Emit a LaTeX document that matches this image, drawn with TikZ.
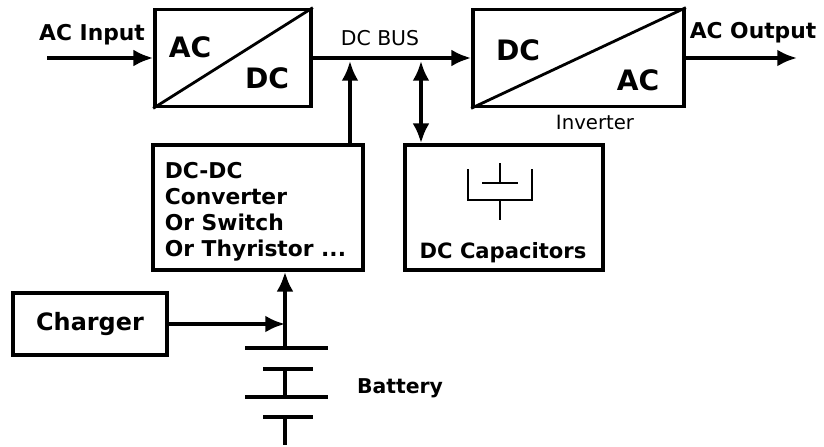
\documentclass[tikz,border=0pt]{standalone}
\usepackage{fontspec}
\setmainfont{DejaVu Sans}
\usetikzlibrary{arrows.meta, positioning}

\begin{document}
\begin{tikzpicture}[x=0.025cm, y=-0.025cm, >={Latex[length=14pt,width=12pt]}, line width=2.6pt,
  block/.style={draw, line width=2.6pt, inner sep=0pt},
  big/.style={font=\bfseries\fontsize{20}{23}\selectfont},
  io/.style={font=\bfseries\fontsize{15.5}{18}\selectfont},
  mid/.style={font=\bfseries\fontsize{15.5}{18.4}\selectfont, inner sep=0pt},
  small/.style={font=\fontsize{14.5}{17}\selectfont},
  thinline/.style={line width=1.9pt},
  plate/.style={line width=2.3pt}]

  \useasboundingbox (0,0) rectangle (824,447);

  % Rectifier and inverter on the DC bus
  \node[block, minimum width=3.9cm, minimum height=2.425cm] (rect) at (233,58) {};
  \node[block, minimum width=5.275cm, minimum height=2.425cm] (inv) at (578.5,58) {};
  \draw[line width=2pt] (rect.south west) -- (rect.north east);
  \draw[line width=2pt] (inv.south west) -- (inv.north east);
  \node[big] (rac) at (190,47) {AC};
  \node[big] (rdc) at (267,78) {DC};
  \node[big] (idc) at (518,50) {DC};
  \node[big] (iac) at (638,80) {AC};
  \node[font=\fontsize{14}{17}\selectfont] (invlbl) at (595,122) {Inverter};

  \node[io] (acin) at (92,35) {AC Input};
  \node[io] (acout) at (753,33) {AC Output};
  \node[small] (buslbl) at (380,38) {DC BUS};

  \coordinate (inA) at (47,58);
  \coordinate (outB) at (797,58);
  \draw[->] (inA) -- (rect.west);
  \draw[->] (inv.east) -- (outB);
  \draw[->] (rect.east) -- (inv.west);

  % Converter and capacitors under the bus
  \coordinate (tapA) at (350,61);
  \coordinate (tapB) at (421,61);
  \node[block, minimum width=5.25cm, minimum height=3.125cm] (dcdc) at (258,207.5) {};
  \node[mid, align=left, anchor=west] (dcdctxt) at (163,211.5) {DC-DC\\Converter\\Or Switch\\Or Thyristor ...};
  \node[block, minimum width=4.95cm, minimum height=3.125cm] (caps) at (504,207.5) {};
  \node[font=\bfseries\fontsize{15}{18}\selectfont] (capslbl) at (503,253) {DC Capacitors};
  \draw[->] (tapA |- dcdc.north) -- (tapA);
  \draw[<->] (tapB) -- (tapB |- caps.north);
  \draw[thinline] (500,163) -- (500,183) (482,183) -- (518,183)
    (468,169) -- (468,200) -- (532,200) -- (532,169) (500,200) -- (500,220);

  % Charger and battery
  \node[block, minimum width=3.85cm, minimum height=1.55cm, font=\bfseries\fontsize{17}{20}\selectfont] (chg) at (90,324) {Charger};
  \coordinate (bat) at (285,348);
  \draw[->] (bat) -- (bat |- dcdc.south);
  \draw[->] (chg.east) -- (chg.east -| bat);
  \draw[plate] (245,348) -- (328,348) (263,369) -- (313,369)
    (245,397) -- (328,397) (263,417) -- (313,417)
    (285,369) -- (285,397) (285,417) -- (285,445);
  \node[font=\bfseries\fontsize{14.5}{17}\selectfont] (batlbl) at (400,388) {Battery};
\end{tikzpicture}
\end{document}
